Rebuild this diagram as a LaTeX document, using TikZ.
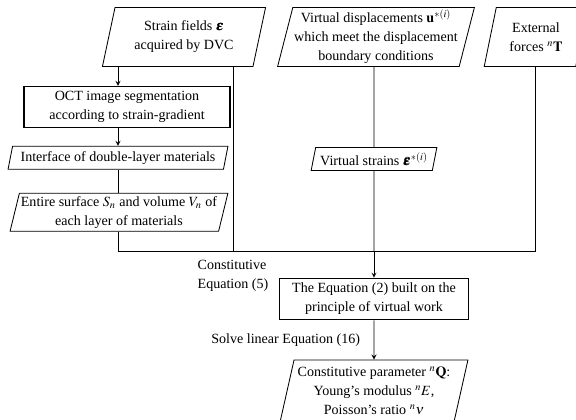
\documentclass[tikz,border=0pt]{standalone}
\usepackage{mathptmx}
\usepackage{bm}
\usepackage{fontspec}
\setmainfont{Liberation Serif}
\usetikzlibrary{shapes.geometric}
\begin{document}
\begin{tikzpicture}[line width=0.6pt, font=\fontsize{10}{13.5}\selectfont,
  para/.style={draw, trapezium, trapezium left angle=75, trapezium right angle=105,
    trapezium stretches=true, align=center, inner sep=1pt},
  procbox/.style={draw, rectangle, line width=1.1pt, align=center},
  flow/.style={->, >=stealth}]
  \useasboundingbox (0,0) rectangle (14.4,10.475);
  \clip (0,0) rectangle (14.4,10.475);
  % input data
  \node[para, minimum width=4.1cm, minimum height=1.475cm] (strain) at (4.6,9.55) {Strain fields $\bm{\varepsilon}$\\acquired by DVC};
  \node[para, minimum width=4.9cm, minimum height=1.475cm] (vdisp) at (9.4,9.55) {Virtual displacements $\mathbf{u}^{*(i)}$\\which meet the displacement\\boundary conditions};
  \node[para, minimum width=2.6cm, minimum height=1.475cm] (ext) at (13.4,9.55) {External\\forces ${}^{n}\mathbf{T}$};
  % left column
  \node[procbox, minimum width=5.15cm, minimum height=0.975cm] (oct) at (3.175,7.8) {OCT image segmentation\\according to strain-gradient};
  \node[para, minimum width=5.5cm, minimum height=0.575cm] (iface) at (2.95,6.53) {Interface of double-layer materials};
  \node[para, minimum width=5.45cm, minimum height=0.95cm] (surf) at (2.975,5.17) {Entire surface $S_n$ and volume $V_n$ of\\each layer of materials};
  \node[para, minimum width=3.15cm, minimum height=0.575cm] (vstrain) at (9.35,6.5) {Virtual strains $\bm{\varepsilon}^{*(i)}$};
  % equation and result
  \node[procbox, minimum width=4.725cm, minimum height=0.975cm] (eqn) at (9.35,3.0) {The Equation (2) built on the\\principle of virtual work};
  \node[para, minimum width=4.7cm, minimum height=1.55cm] (param) at (9.35,0.7) {Constitutive parameter ${}^{n}\mathbf{Q}$:\\Young's modulus ${}^{n}E$,\\Poisson's ratio ${}^{n}\nu$};
  \node[align=left] (constlbl) at (5.825,3.575) {Constitutive\\Equation (5)};
  \coordinate (colA) at (2.95,4.2);
  \coordinate (colB) at (5.825,4.2);
  \coordinate (colC) at (9.35,4.2);
  \coordinate (colD) at (13.375,4.2);
  \draw[flow] (strain.south -| colA) -- (oct.north -| colA);
  \draw[flow] (oct.south -| colA) -- (iface.north -| colA);
  \draw (iface.south -| colA) -- (surf.north -| colA);
  \draw (surf.south -| colA) -- (colA) -- (colD) -- (ext.south -| colD);
  \draw (strain.south -| colB) -- (colB);
  \draw (vdisp.south -| colC) -- (vstrain.north);
  \draw (vstrain.south) -- (colC);
  \draw[flow] (colC) -- (eqn.north);
  \draw[flow] (eqn.south) -- node[left=0.22cm] {Solve linear Equation (16)} (param.north);
\end{tikzpicture}
\end{document}
